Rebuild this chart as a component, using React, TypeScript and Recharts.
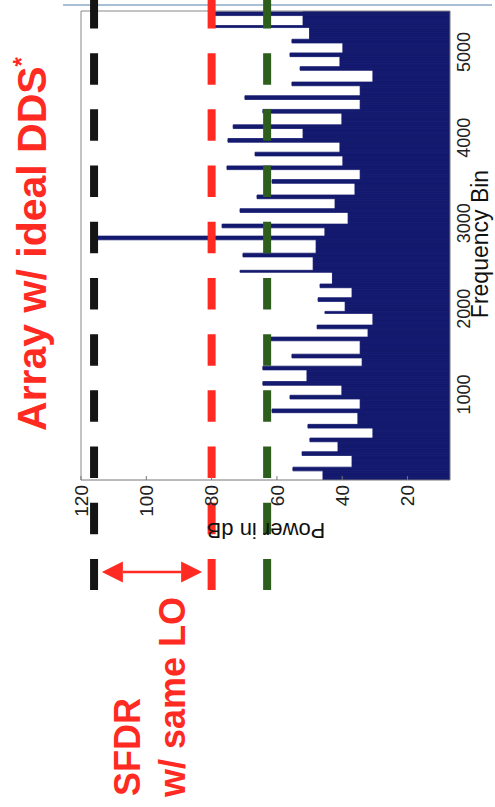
import React from 'react';
import { ComposedChart, Bar, XAxis, YAxis, ReferenceLine } from 'recharts';

// spur lines: frequency bin and peak power (dB)
const spurBins = [
  5450, 5300, 5134, 4970, 4818, 4630, 4478, 4302, 4138, 3974, 3810, 3658, 3494, 3318, 3154, 2979, 2827,
  2628, 2440, 2276, 2112, 1960, 1785, 1656, 1457, 1305, 1129, 965, 813, 637, 473, 309, 133,
];
const spurDb = [
  80, 80, 55.4, 56, 52.9, 55.4, 69.8, 64.3, 73.4, 75, 66.7, 75.3, 61.5, 66.1, 71.3, 76.8, 115,
  70.4, 71.3, 46.8, 47.4, 45.3, 47.7, 62.1, 55.4, 64.3, 64.3, 56, 61.5, 50.5, 49.9, 52.3, 55.1,
];
// noise floor in the gap just below each spur (towards lower bins)
const floorDb = [
  52, 50, 39.8, 40.7, 30.6, 34.5, 34.5, 40.1, 52, 40.7, 39.8, 34.5, 36.1, 42.2, 38.2, 45.3, 48,
  48.9, 43, 37, 39.1, 30.6, 32.1, 34.5, 33.9, 50.8, 40.1, 34.5, 35.2, 30.6, 41.3, 37, 45.9,
];

const powerTicks = [20, 40, 60, 80, 100, 120];
const binTicks = [1000, 2000, 3000, 4000, 5000];

// dashed SFDR levels (dB)
const idealLevel = 116;
const sameLoLevel = 80;
const otherLevel = 63;

const MAX_BIN = 5480;
const BIN_STEP = 20;

const NAVY = '#141a6e';
const RED = '#ff2a22';
const GREEN = '#2d5e1e';
const BLACK = '#141414';
const FONT = '"Liberation Sans", Arial, Helvetica, sans-serif';

const rows: { bin: number; db: number }[] = [];
for (let bin = 0; bin <= MAX_BIN; bin += BIN_STEP) {
  const spur = spurBins.findIndex((s) => Math.abs(s - bin) < BIN_STEP);
  let db: number;
  if (spur >= 0) {
    db = spurDb[spur];
  } else {
    let gap = 0;
    spurBins.forEach((s, i) => {
      if (s > bin) gap = i;
    });
    db = floorDb[gap];
  }
  rows.push({ bin, db });
}

const PowerTick = ({ x, y, payload }: any) => (
  <g>
    <line x1={x} y1={y} x2={x} y2={y - 4} stroke="#777" />
    <text
      transform={`translate(${x},${y + 5}) rotate(-90)`}
      textAnchor="end"
      dy="0.35em"
      fontSize={19}
      fontFamily={FONT}
      fill="#222"
    >
      {payload.value}
    </text>
  </g>
);

const BinTick = ({ x, y, payload }: any) => (
  <text
    transform={`translate(${x + 20},${y}) rotate(-90)`}
    textAnchor="middle"
    fontSize={18}
    fontFamily={FONT}
    fill="#222"
  >
    {payload.value}
  </text>
);

const ArrowShape = (props: any) => {
  const { x1, y1, x2, y2 } = props;
  const head = 21;
  const half = 10.5;
  return (
    <g>
      <line x1={x1 + head} y1={y1} x2={x2 - head} y2={y2} stroke={RED} strokeWidth={2.5} />
      <polygon points={`${x1},${y1} ${x1 + head},${y1 - half} ${x1 + head},${y1 + half}`} fill={RED} />
      <polygon points={`${x2},${y2} ${x2 - head},${y2 - half} ${x2 - head},${y2 + half}`} fill={RED} />
    </g>
  );
};

const dashTop = 5644;
const dashBottom = -1285;
const arrowBin = -1075;

export default function App() {
  return (
    <div style={{ position: 'absolute', left: 0, top: 0, width: 495, height: 807, background: '#fff' }}>
      <div style={{ position: 'absolute', left: 63, top: 4, width: 429, height: 2, background: '#a8bfd6' }} />
      <ComposedChart
        width={495}
        height={807}
        data={rows}
        layout="vertical"
        margin={{ top: 11, right: 5, bottom: 287, left: 81 }}
        barCategoryGap={0}
        barGap={0}
      >
        <XAxis
          type="number"
          domain={[7, 120]}
          reversed
          allowDataOverflow
          ticks={powerTicks}
          interval={0}
          height={40}
          tickSize={0}
          tickMargin={0}
          tickLine={false}
          axisLine={{ stroke: '#777' }}
          tick={<PowerTick />}
        />
        <YAxis
          type="number"
          dataKey="bin"
          orientation="right"
          domain={[0, MAX_BIN]}
          reversed
          allowDataOverflow
          ticks={binTicks}
          interval={0}
          width={40}
          tickSize={0}
          tickMargin={0}
          tickLine={false}
          axisLine={{ stroke: '#777' }}
          tick={<BinTick />}
        />
        <Bar dataKey="db" fill={NAVY} stroke={NAVY} strokeWidth={0.8} isAnimationActive={false} />
        <ReferenceLine x={120} stroke="#888" />
        <ReferenceLine y={MAX_BIN} stroke="#888" />
        <ReferenceLine
          segment={[{ x: idealLevel, y: dashTop }, { x: idealLevel, y: dashBottom }]}
          ifOverflow="visible"
          stroke={BLACK}
          strokeWidth={8}
          strokeDasharray="31.5 24.7"
        />
        <ReferenceLine
          segment={[{ x: sameLoLevel, y: dashTop }, { x: sameLoLevel, y: dashBottom }]}
          ifOverflow="visible"
          stroke={RED}
          strokeWidth={8}
          strokeDasharray="31.5 24.7"
        />
        <ReferenceLine
          segment={[{ x: otherLevel, y: dashTop }, { x: otherLevel, y: dashBottom }]}
          ifOverflow="visible"
          stroke={GREEN}
          strokeWidth={8}
          strokeDasharray="31.5 24.7"
        />
        <ReferenceLine
          segment={[{ x: 113.6, y: arrowBin }, { x: 82.9, y: arrowBin }]}
          ifOverflow="visible"
          shape={ArrowShape}
        />
      </ComposedChart>
      <svg
        width={495}
        height={807}
        style={{ position: 'absolute', left: 0, top: 0, pointerEvents: 'none' }}
        fontFamily={FONT}
      >
        <text
          transform="translate(46,244) rotate(-90)"
          textAnchor="middle"
          fontSize={41}
          fontWeight="bold"
          fill={RED}
        >
          Array w/ ideal DDS
          <tspan dy={-16} fontSize={24}>
            *
          </tspan>
        </text>
        <text transform="translate(140,796) rotate(-90)" fontSize={36} fontWeight="bold" fill={RED}>
          SFDR
        </text>
        <text transform="translate(185,797) rotate(-90)" fontSize={36} fontWeight="bold" fill={RED}>
          w/ same LO
        </text>
        <text transform="translate(488,244) rotate(-90)" textAnchor="middle" fontSize={23} fill="#111">
          Frequency Bin
        </text>
        <text transform="translate(266,523) rotate(180)" textAnchor="middle" fontSize={22} fill="#111">
          Power in dB
        </text>
      </svg>
    </div>
  );
}
